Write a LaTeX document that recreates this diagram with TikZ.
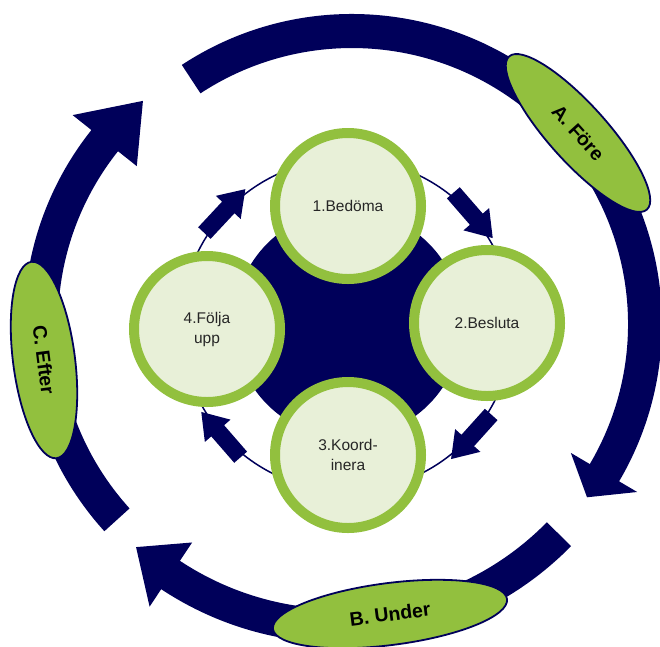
\documentclass[tikz,border=0pt]{standalone}
\usepackage{fontspec}
\setmainfont{Liberation Sans}
\usetikzlibrary{shapes.geometric,calc}
\definecolor{navyc}{RGB}{0,0,90}
\definecolor{ringgreen}{RGB}{146,192,62}
\definecolor{lightfill}{RGB}{232,240,216}
\definecolor{txtgray}{RGB}{38,38,38}
\begin{document}
\begin{tikzpicture}[x=1pt,y=1pt,
  phase/.style={ellipse, draw=navyc, line width=1.8pt, fill=ringgreen, inner sep=0pt,
    font=\fontsize{19.5}{22}\selectfont\bfseries, text=black},
  stepcircle/.style={circle, draw=ringgreen, line width=10pt, fill=lightfill,
    minimum size=146pt, inner sep=0pt, align=center,
    font=\fontsize{15.5}{20}\selectfont, text=txtgray},
  bigarc/.style={fill=navyc},
  smallarrow/.pic={\fill[navyc] (-30,-8.5) -- (5,-8.5) -- (5,-17) -- (30,0) -- (5,17) -- (5,8.5) -- (-30,8.5) -- cycle;}]
\path[use as bounding box] (0,0) rectangle (660,-646);

% outer circular arrows
\begin{scope}[shift={(352,-324)}]
  \fill[bigarc] (123.3:310) arc[start angle=123.3, end angle=-30.5, radius=310pt]
    -- (-30.5:331) -- (-36.4:292) -- (-30.5:254) -- (-30.5:276)
    arc[start angle=-30.5, end angle=123.3, radius=276pt] -- cycle;
\end{scope}
\begin{scope}[shift={(340,-319)}]
  \fill[bigarc] (-44.5:324) arc[start angle=-44.5, end angle=-123.5, radius=324pt]
    -- (-123.5:345) -- (-131.8:306) -- (-123.5:268) -- (-123.5:290)
    arc[start angle=-123.5, end angle=-44.5, radius=290pt] -- cycle;
\end{scope}
\begin{scope}[shift={(334,-323)}]
  \fill[bigarc] (222.2:310) arc[start angle=222.2, end angle=141.5, radius=310pt]
    -- (141.5:334) -- (130.7:293) -- (141.5:252) -- (141.5:276)
    arc[start angle=141.5, end angle=222.2, radius=276pt] -- cycle;
\end{scope}

% phase ellipses
\node[phase, minimum width=206pt, minimum height=58pt, rotate=-48] (fore) at (578,-133) {A. Före};
\node[phase, minimum width=236pt, minimum height=62pt, rotate=7.3] (under) at (390,-614) {B. Under};
\node[phase, minimum width=198pt, minimum height=62pt, rotate=-82.7] (efter) at (44,-360) {C. Efter};

% inner cycle
\coordinate (ic) at (347,-325);
\draw[navyc, line width=1.5pt] (ic) circle[radius=166pt];
\pic[rotate=47] at ($(ic)+(137:167)$) {smallarrow};
\pic[rotate=-49] at ($(ic)+(41:167)$) {smallarrow};
\pic[rotate=-132] at ($(ic)+(-42:167)$) {smallarrow};
\pic[rotate=131] at ($(ic)+(-139:167)$) {smallarrow};
\fill[navyc] (348,-324) circle[radius=114pt];

\node[stepcircle] (s1) at (348,-206) {1.Bedöma};
\node[stepcircle] (s2) at (487,-323) {2.Besluta};
\node[stepcircle] (s3) at (348,-455) {3.Koord-\\inera};
\node[stepcircle] (s4) at (207,-329) {4.Följa\\upp};
\end{tikzpicture}
\end{document}
